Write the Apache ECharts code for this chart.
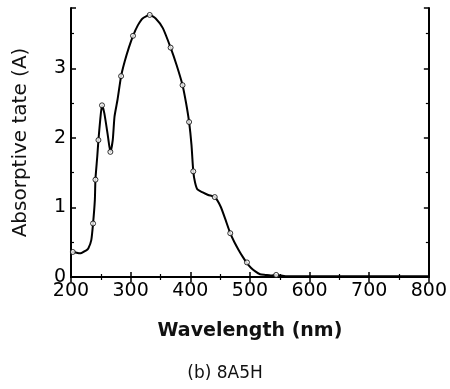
<!DOCTYPE html>
<html><head><meta charset="utf-8">
<script src="https://cdn.jsdelivr.net/npm/echarts@6/dist/echarts.min.js"></script>
<style>html,body{margin:0;padding:0;background:#fff}#c{width:450px;height:389px}</style>
</head><body><div id="c"></div>
<script>
const wavelength = [200,204,215,225,229,234,237,240,241,244,246,249,252,256,262,266,270,273,278,284,290,297,304,312,320,332,342,354,367,377,387,393,398,402,405,408,412,420,430,441,451,460,467,474,481,488,495,502,509,517,526,535,544,560,600,650,700,750,800];
const absorbance = [0.35,0.36,0.34,0.38,0.41,0.53,0.77,1.11,1.41,1.73,1.97,2.26,2.47,2.35,2.02,1.80,1.97,2.31,2.55,2.89,3.10,3.30,3.47,3.62,3.72,3.77,3.72,3.58,3.30,3.05,2.76,2.50,2.23,1.90,1.52,1.36,1.26,1.22,1.18,1.15,1.01,0.80,0.63,0.50,0.39,0.29,0.20,0.13,0.08,0.04,0.03,0.02,0.03,0.01,0.01,0.01,0.01,0.01,0.01];
const markerWl = [203,237,241,246,252,266,284,304,332,367,387,398,405,441,467,495,544];
const markerA = [0.36,0.77,1.40,1.97,2.47,1.80,2.89,3.47,3.77,3.30,2.76,2.23,1.52,1.15,0.63,0.21,0.03];
const xTicks = [200,300,400,500,600,700,800];
const yTicks = [0,1,2,3];
const xTitle = 'Wavelength (nm)';
const yTitle = 'Absorptive tate (A)';
const caption = '(b) 8A5H';

const chart = echarts.init(document.getElementById('c'));
const font = 'DejaVu Sans, sans-serif';
const axLine = {show:true, lineStyle:{color:'#000', width:2}};
const tick = {show:true, inside:true, length:5, lineStyle:{color:'#000', width:1.5}};
const minor = {show:true, length:3, splitNumber:2, lineStyle:{color:'#000', width:1.2}};
chart.setOption({
  animation:false,
  backgroundColor:'#fff',
  grid:{left:71, right:17, top:8, bottom:112},
  graphic:[{type:'text', left:'center', top:365, style:{text:caption, x:0, y:0,
    font:'normal 17px "DejaVu Sans", sans-serif', fill:'#111'}}],
  xAxis:[{type:'value', min:200, max:800, interval:100, position:'bottom',
    name:xTitle, nameLocation:'middle', nameGap:45,
    nameTextStyle:{fontFamily:font, fontSize:19, fontWeight:'bold', color:'#111'},
    axisLine:axLine, axisTick:tick, minorTick:minor, splitLine:{show:false},
    axisLabel:{fontFamily:font, fontSize:19, color:'#000', margin:5,
      formatter:v=>xTicks.includes(v)?String(v):''}},
   {type:'value', min:200, max:800, interval:100, position:'top',
    axisLine:axLine, axisTick:tick, minorTick:minor, splitLine:{show:false}, axisLabel:{show:false}}],
  yAxis:[{type:'value', min:0, max:3.87, interval:1, position:'left',
    name:yTitle, nameLocation:'middle', nameGap:40,
    nameTextStyle:{fontFamily:font, fontSize:20, color:'#111'},
    axisLine:axLine, axisTick:tick, minorTick:minor, splitLine:{show:false},
    axisLabel:{fontFamily:font, fontSize:19, color:'#000', margin:5,
      formatter:v=>yTicks.includes(v)?String(v):''}},
   {type:'value', min:0, max:3.87, interval:1, position:'right',
    axisLine:axLine, axisTick:tick, minorTick:minor, splitLine:{show:false}, axisLabel:{show:false}}],
  series:[
    {type:'line', data:wavelength.map((w,i)=>[w,absorbance[i]]), smooth:0.2,
     showSymbol:false, lineStyle:{color:'#000', width:2}, z:2},
    {type:'scatter', data:markerWl.map((w,i)=>[w,markerA[i]]), symbol:'circle', symbolSize:5,
     itemStyle:{color:'#fff', borderColor:'#000', borderWidth:1}, z:3}
  ]
});
</script></body></html>
